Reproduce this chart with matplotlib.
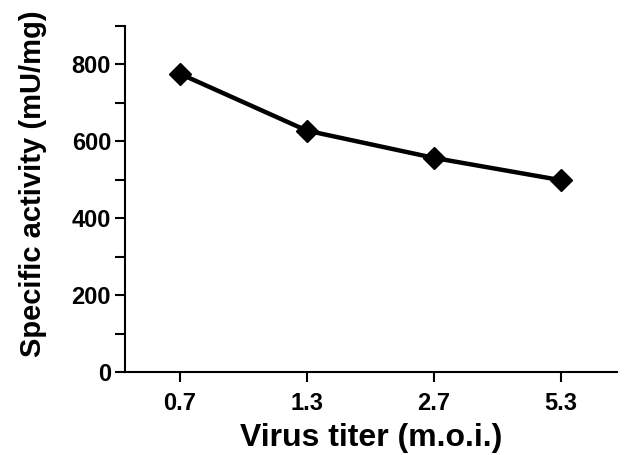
import matplotlib
matplotlib.use('Agg')
import matplotlib.pyplot as plt
from matplotlib.ticker import MultipleLocator

# data
titers = ['0.7', '1.3', '2.7', '5.3']
activity = [776, 628, 557, 499]

plt.rcParams['font.family'] = ['Liberation Sans', 'DejaVu Sans']
plt.rcParams['font.weight'] = 'bold'

fig = plt.figure(figsize=(6.31, 4.55), dpi=100)
ax = fig.add_axes([0.198, 0.182, 0.78, 0.761])

x = list(range(len(titers)))
ax.plot(x, activity, color='black', linewidth=3.2, marker='D', markersize=11,
        markerfacecolor='black', markeredgecolor='black')

ax.set_xlim(-0.43, 3.44)
ax.set_ylim(0, 900)
ax.set_xticks(x)
ax.set_xticklabels(titers)
ax.yaxis.set_major_locator(MultipleLocator(200))
ax.yaxis.set_minor_locator(MultipleLocator(100))

ax.spines['top'].set_visible(False)
ax.spines['right'].set_visible(False)
for s in ('left', 'bottom'):
    ax.spines[s].set_linewidth(1.5)

ax.tick_params(axis='both', which='both', direction='out', width=1.5, length=7,
               labelsize=17)
ax.tick_params(axis='x', pad=7)
ax.tick_params(axis='y', pad=3)

ax.set_xlabel('Virus titer (m.o.i.)', fontsize=23, fontweight='bold', labelpad=6)
ax.set_ylabel('Specific activity (mU/mg)', fontsize=21, fontweight='bold', labelpad=18)
ax.yaxis.label.set_y(0.545)

fig.savefig('out.png', dpi=100, facecolor='white')
